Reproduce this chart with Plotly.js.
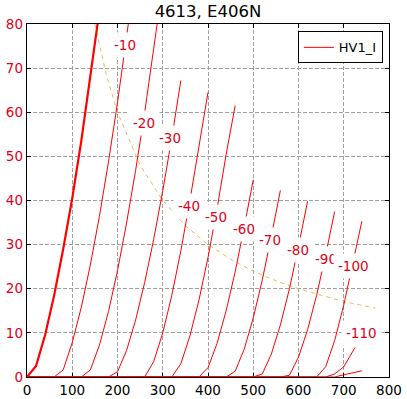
<!DOCTYPE html>
<html>
<head>
<meta charset="utf-8">
<script src="https://cdn.plot.ly/plotly-3.0.1.min.js"></script>
<style>html,body{margin:0;padding:0;background:#fff;}#chart{width:407px;height:399px;}</style>
</head>
<body>
<div id="chart"></div>
<script>
// Grid voltages of the plate curves
const gridVolts = [0, -10, -20, -30, -40, -50, -60, -70, -80, -90, -100, -110, -120];

// Plate voltage (V) and plate current (mA), one pair of arrays per curve
const plateV_0    = [0, 20, 40, 60, 80, 100, 120, 140, 160];
const plateI_0    = [0, 2.5, 9.5, 18.5, 29, 40.5, 53.5, 67.5, 83];
const plateV_10   = [0, 60, 80, 100, 120, 140, 160, 180, 200, 220, 240];
const plateI_10   = [0, 0, 1.6, 7.8, 15.8, 25.4, 36.4, 48.7, 62.2, 76.6, 92];
const plateV_20   = [0, 120, 140, 160, 180, 200, 220, 240, 260, 280, 300];
const plateI_20   = [0, 0, 1.6, 7.2, 14.8, 24.1, 34.9, 46.8, 59.9, 74, 89];
const plateV_30   = [0, 180, 200, 220, 240, 260, 280, 300, 320, 340];
const plateI_30   = [0, 0, 1.2, 6.0, 12.9, 21.4, 31.2, 42.2, 54.2, 67.2];
const plateV_40   = [0, 260, 280, 300, 320, 340, 360, 380, 400];
const plateI_40   = [0, 0, 3.5, 10, 18.5, 28.6, 40, 52.6, 64.5];
const plateV_50   = [0, 320, 340, 360, 380, 400, 420, 440, 460];
const plateI_50   = [0, 0, 3.0, 9.3, 17.4, 27.1, 38.1, 50.4, 61.5];
const plateV_60   = [0, 380, 400, 420, 440, 460, 480, 500];
const plateI_60   = [0, 0, 2.1, 7.6, 15.0, 23.8, 34.0, 44.7];
const plateV_70   = [0, 440, 460, 480, 500, 520, 540, 560];
const plateI_70   = [0, 0, 1.3, 6.3, 13.4, 22.0, 31.9, 42.3];
const plateV_80   = [0, 500, 520, 540, 560, 580, 600, 620];
const plateI_80   = [0, 0, 0.7, 5.2, 11.8, 20.0, 29.6, 39.8];
const plateV_90   = [0, 560, 580, 600, 620, 640, 660, 680];
const plateI_90   = [0, 0, 0.4, 4.5, 10.7, 18.5, 27.7, 37.5];
const plateV_100  = [0, 640, 660, 680, 700, 720, 740];
const plateI_100  = [0, 0, 2.3, 8.3, 16.3, 26.0, 35.3];
const plateV_110  = [0, 660, 680, 700, 725];
const plateI_110  = [0, 0, 0.7, 2.3, 6.7];
const plateV_120  = [0, 680, 700, 720, 740];
const plateI_120  = [0, 0, 0.5, 0.9, 1.4];

// Maximum plate dissipation curve
const dissV = [150, 175, 200, 250, 300, 350, 400, 450, 500, 550, 600, 650, 700, 770];
const dissI = [80, 68.6, 60, 48, 40, 34.3, 30, 26.7, 24, 21.8, 20, 18.5, 17.1, 15.6];

// Curve labels (grid voltage) and where they sit
const labelText = ['-10', '-20', '-30', '-40', '-50', '-60', '-70', '-80', '-90', '-100', '-110'];
const labelV = [217, 258, 317, 358, 418, 480, 538, 598, 661, 721, 740];
const labelI = [75.3, 57.5, 54.2, 38.8, 36.2, 33.5, 31, 28.8, 26.8, 25.2, 10];

const xTicks = [0, 100, 200, 300, 400, 500, 600, 700, 800];
const yTicks = [0, 10, 20, 30, 40, 50, 60, 70, 80];

const curvesV = [plateV_0, plateV_10, plateV_20, plateV_30, plateV_40, plateV_50, plateV_60,
                 plateV_70, plateV_80, plateV_90, plateV_100, plateV_110, plateV_120];
const curvesI = [plateI_0, plateI_10, plateI_20, plateI_30, plateI_40, plateI_50, plateI_60,
                 plateI_70, plateI_80, plateI_90, plateI_100, plateI_110, plateI_120];

const FONT = 'DejaVu Sans, sans-serif';
const traces = [];
traces.push({
  x: dissV, y: dissI, mode: 'lines', showlegend: false, hoverinfo: 'skip',
  line: {color: '#f2b560', width: 1, dash: '4px,4px'}
});
curvesV.forEach((v, i) => {
  traces.push({
    x: v, y: curvesI[i], mode: 'lines', name: 'HV1_I',
    showlegend: i === 1,
    line: {color: '#ff0000', width: gridVolts[i] === 0 ? 2.2 : 1}
  });
});

const annotations = labelText.map((t, i) => ({
  x: labelV[i], y: labelI[i], xref: 'x', yref: 'y', text: t, showarrow: false,
  font: {family: FONT, size: 13.5, color: '#e0001a'}, bgcolor: '#ffffff', borderpad: 4
}));

const layout = {
  width: 407, height: 399,
  margin: {l: 27, r: 18, t: 24, b: 22},
  paper_bgcolor: '#ffffff', plot_bgcolor: '#ffffff',
  font: {family: FONT, size: 13, color: '#000'},
  title: {text: '4613, E406N', x: 0.5, xref: 'paper', y: 0.972, yref: 'container', yanchor: 'middle',
          font: {family: FONT, size: 16.5, color: '#000'}},
  xaxis: {
    range: [0, 800], tickvals: xTicks, ticktext: xTicks.map(String),
    showline: true, linecolor: '#000', linewidth: 1.3, mirror: 'ticks',
    ticks: 'inside', ticklen: 4, tickcolor: '#000',
    showgrid: true, gridcolor: '#a0a0a0', gridwidth: 1, griddash: '4px,2px',
    zeroline: false, layer: 'below traces',
    tickfont: {family: FONT, size: 13.5, color: '#000'}
  },
  yaxis: {
    range: [0, 80], tickvals: yTicks, ticktext: yTicks.map(String),
    showline: true, linecolor: '#000', linewidth: 1.3, mirror: 'ticks',
    ticks: 'inside', ticklen: 4, tickcolor: '#000',
    showgrid: true, gridcolor: '#a0a0a0', gridwidth: 1, griddash: '4px,2px',
    zeroline: false, layer: 'below traces',
    tickfont: {family: FONT, size: 13.5, color: '#e0001a'}
  },
  showlegend: true,
  legend: {
    x: 0.983, y: 0.979, xanchor: 'right', yanchor: 'top',
    bgcolor: '#ffffff', bordercolor: '#000', borderwidth: 1,
    font: {family: FONT, size: 13, color: '#000'}, itemwidth: 30
  },
  annotations: annotations
};

Plotly.newPlot('chart', traces, layout, {displayModeBar: false, staticPlot: true});
</script>
</body>
</html>
